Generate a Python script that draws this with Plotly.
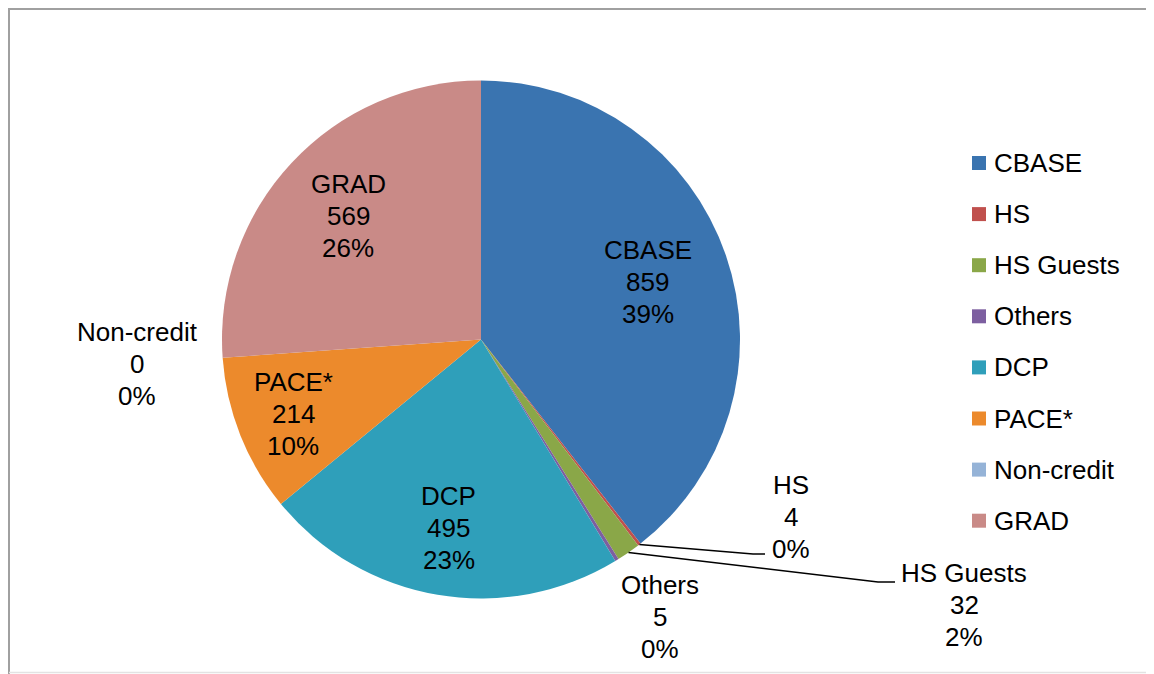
import math
import plotly.graph_objects as go

# ---- data ----
categories = ["CBASE", "HS", "HS Guests", "Others", "DCP", "PACE*", "Non-credit", "GRAD"]
values = [859, 4, 32, 5, 495, 214, 0, 569]
percent_labels = ["39%", "0%", "2%", "0%", "23%", "10%", "0%", "26%"]
colors = ["#3a74b0", "#c0504d", "#8aa748", "#7d5fa0", "#2f9fba", "#ec8a2c", "#95b3d7", "#c98a87"]

# ---- layout constants (page pixels; the page body adds an 8px margin) ----
PAGE_W, PAGE_H = 1154, 674
OFF = 8
W, H = PAGE_W - OFF, PAGE_H - OFF
CX, CY, R = 481, 339.5, 259
LINE_GAP = 32
FONT = dict(family="Liberation Sans, Arial, sans-serif", size=26, color="black")

def px(x):
    return (x - OFF) / W

def py(y):
    return 1 - (y - OFF) / H

fig = go.Figure(go.Pie(
    labels=categories,
    values=values,
    marker=dict(colors=colors, line=dict(width=0)),
    sort=False,
    direction="clockwise",
    rotation=0,
    textinfo="none",
    hoverinfo="label+value+percent",
    showlegend=False,
    domain=dict(x=[px(CX - R), px(CX + R)], y=[py(CY + R), py(CY - R)]),
))

total = sum(values)
cum = 0
mid_angles = {}
for c, v in zip(categories, values):
    mid_angles[c] = (cum + v / 2) / total * 360
    cum += v

annotations = []
shapes = []

# data labels: inside ones along the slice bisector, outside ones at fixed spots
inside_frac = {"CBASE": 0.68, "DCP": 0.74, "PACE*": 0.78, "GRAD": 0.70}
outside_pos = {"HS": (791, 517), "HS Guests": (964, 605), "Others": (660, 617), "Non-credit": (137, 364)}
for i, c in enumerate(categories):
    if c in inside_frac:
        a = math.radians(mid_angles[c])
        r = inside_frac[c] * R
        x = CX + r * math.sin(a)
        y = CY - r * math.cos(a)
    else:
        x, y = outside_pos[c]
    lines = [c, str(values[i]), percent_labels[i]]
    for k, t in enumerate(lines):
        annotations.append(dict(x=px(x), y=py(y + (k - 1) * LINE_GAP), xref="paper", yref="paper",
                                text=t, showarrow=False, font=FONT,
                                xanchor="center", yanchor="middle"))

# leader lines
leaders = {"HS": [(753, 554), (765, 554)], "HS Guests": [(878, 582), (895, 582)]}
for c, pts in leaders.items():
    a = math.radians(mid_angles[c])
    sx = CX + R * math.sin(a)
    sy = CY - R * math.cos(a)
    path_pts = [(sx, sy)] + pts
    d = "M " + " L ".join(f"{px(x)},{py(y)}" for x, y in path_pts)
    shapes.append(dict(type="path", xref="paper", yref="paper", path=d,
                       line=dict(color="black", width=1.5)))

# legend (manual)
LEG_X, LEG_Y0, LEG_DY, SQ = 972, 163, 51.1, 14
for i, (c, col) in enumerate(zip(categories, colors)):
    yc = LEG_Y0 + i * LEG_DY
    shapes.append(dict(type="rect", xref="paper", yref="paper",
                       x0=px(LEG_X), x1=px(LEG_X + SQ), y0=py(yc + SQ / 2), y1=py(yc - SQ / 2),
                       fillcolor=col, line=dict(width=0)))
    annotations.append(dict(x=px(992), y=py(yc), xref="paper", yref="paper", text=c,
                            showarrow=False, font=FONT, xanchor="left", yanchor="middle"))

# chart border (top/left darker, bottom faint)
shapes.append(dict(type="line", xref="paper", yref="paper", x0=0, x1=1, y0=py(9), y1=py(9),
                   line=dict(color="#a0a0a0", width=2)))
shapes.append(dict(type="line", xref="paper", yref="paper", x0=px(9), x1=px(9), y0=py(8), y1=0,
                   line=dict(color="#a0a0a0", width=2)))
shapes.append(dict(type="line", xref="paper", yref="paper", x0=px(9), x1=1, y0=py(672.5), y1=py(672.5),
                   line=dict(color="#e3e3e3", width=1.5)))

fig.update_layout(
    width=W, height=H,
    margin=dict(l=0, r=0, t=0, b=0),
    paper_bgcolor="white",
    plot_bgcolor="white",
    annotations=annotations,
    shapes=shapes,
    font=FONT,
)

fig.write_html("out.html")
